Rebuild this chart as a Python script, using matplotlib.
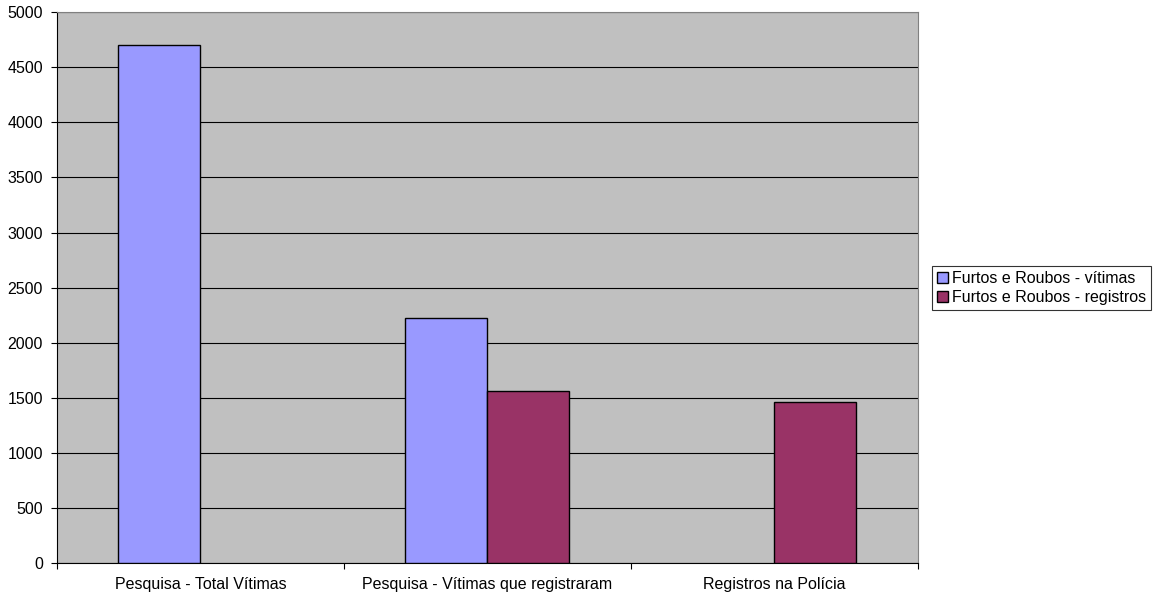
import numpy as np
import matplotlib.pyplot as plt

plt.rcParams['font.family'] = ['Liberation Sans', 'DejaVu Sans']

categorias = ['Pesquisa - Total Vítimas', 'Pesquisa - Vítimas que registraram', 'Registros na Polícia']
vitimas = [4700, 2230, np.nan]
registros = [np.nan, 1560, 1460]
series = ['Furtos e Roubos - vítimas', 'Furtos e Roubos - registros']

fig = plt.figure(figsize=(11.58, 6.01), dpi=100)
ax = fig.add_axes([0.0492, 0.0624, 0.7435, 0.9176])
ax.set_facecolor('#C0C0C0')

x = np.arange(len(categorias))
w = 1 / 3.5
ax.bar(x - w / 2, vitimas, w, color='#9999FF', edgecolor='black', linewidth=1, label=series[0], zorder=3)
ax.bar(x + w / 2, registros, w, color='#993366', edgecolor='black', linewidth=1, label=series[1], zorder=3)

ax.set_xlim(-0.5, 2.5)
ax.set_ylim(0, 5000)
ax.set_yticks(np.arange(0, 5001, 500))
ax.yaxis.grid(True, color='black', linewidth=0.8, zorder=1)

# category labels between the boundary ticks
ax.set_xticks(np.arange(-0.5, 2.6, 1))
ax.set_xticklabels([])
ax.set_xticks(x, minor=True)
ax.set_xticklabels(categorias, minor=True)
ax.tick_params(axis='x', which='major', length=4, color='black')
ax.tick_params(axis='x', which='minor', length=0, pad=10, labelsize=11.5)
ax.tick_params(axis='y', length=4, labelsize=11.5, pad=6)

for s in ['top', 'right']:
    ax.spines[s].set_color('#808080')
for s in ['left', 'bottom']:
    ax.spines[s].set_color('black')

leg = ax.legend(loc='center left', bbox_to_anchor=(1.016, 0.5), fontsize=11.5, frameon=True,
                fancybox=False, edgecolor='black', handlelength=0.7, handleheight=0.7,
                handletextpad=0.25, borderpad=0.3, labelspacing=0.25, borderaxespad=0)
leg.get_frame().set_linewidth(0.8)

fig.savefig('out.png', dpi=100)
